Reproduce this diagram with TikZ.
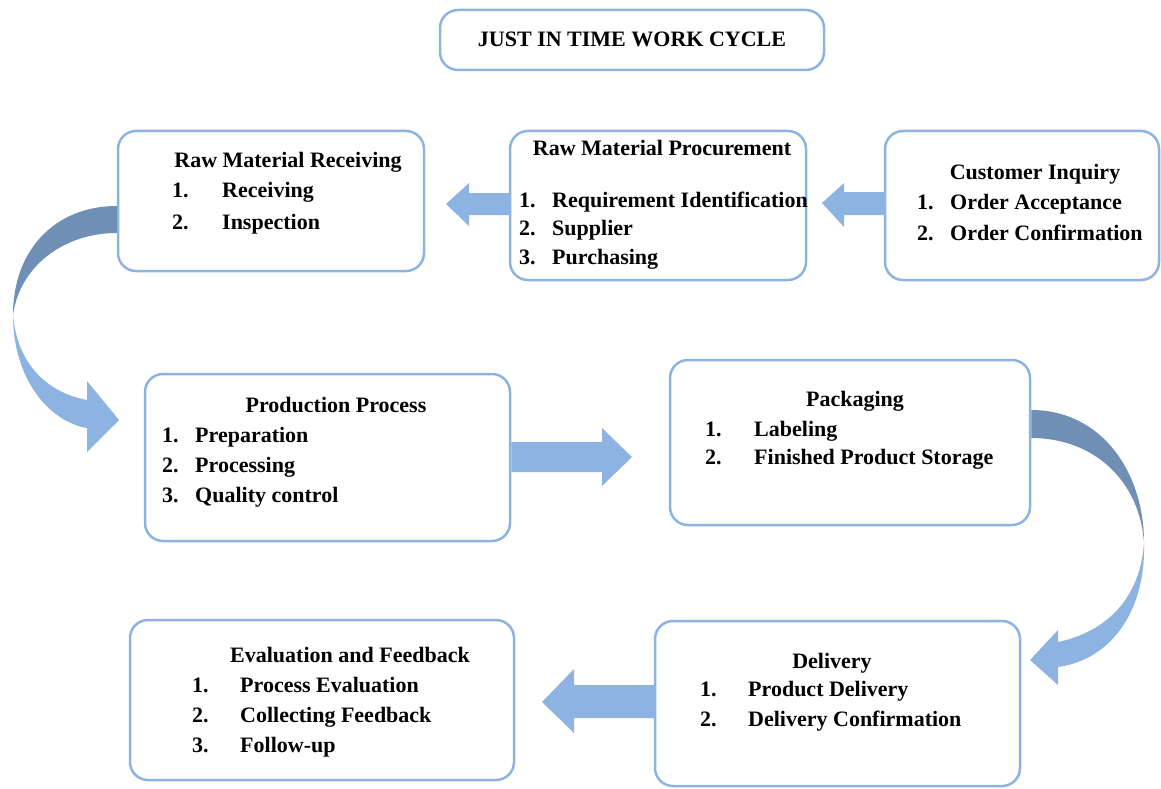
\documentclass[tikz,border=0pt]{standalone}
\usepackage{fontspec}
\setmainfont{Liberation Serif}
\usetikzlibrary{calc}
\definecolor{boxline}{HTML}{8DB3E2}
\definecolor{arrowlight}{HTML}{8DB3E2}
\definecolor{arrowdark}{HTML}{6F8FB5}
\tikzset{
  box/.style={draw=boxline, line width=2.5pt, rounded corners=18pt, fill=white},
  txt/.style={font=\fontsize{22}{30}\selectfont\bfseries, inner sep=0pt, text height=17pt, text depth=3pt},
  item/.style={txt, anchor=west},
  blockarrow/.style={fill=arrowlight, draw=none}
}

\begin{document}
\begin{tikzpicture}[x=1pt,y=-1pt]
    \useasboundingbox (0,0) rectangle (1161,789);% Page frame
    % Boxes
    \node[box, txt, minimum width=384pt, minimum height=60pt] (title) at (632,40) {JUST IN TIME WORK CYCLE};
    \node[box, minimum width=306pt, minimum height=140pt] (recv) at (271,201) {};
    \node[box, minimum width=296pt, minimum height=149pt] (proc) at (658,205.5) {};
    \node[box, minimum width=274pt, minimum height=149pt] (cust) at (1022,205.5) {};
    \node[box, minimum width=365pt, minimum height=167pt] (prod) at (327.5,457.5) {};
    \node[box, minimum width=360pt, minimum height=165pt] (pack) at (850,442.5) {};
    \node[box, minimum width=384pt, minimum height=160pt] (eval) at (322,700) {};
    \node[box, minimum width=365pt, minimum height=165pt] (deliv) at (837.5,703.5) {};
    % Straight block arrows
    \fill[blockarrow] (446,204) -- (469,183) -- (469,193) -- (proc.west |- 0,193)
        -- (proc.west |- 0,215) -- (469,215) -- (469,226) -- cycle;
    \fill[blockarrow] (822,203) -- (844,183) -- (844,192) -- (cust.west |- 0,192)
        -- (cust.west |- 0,215) -- (844,215) -- (844,227) -- cycle;
    \fill[blockarrow] (632,457) -- (602,428) -- (602,442) -- (prod.east |- 0,442)
        -- (prod.east |- 0,472) -- (602,472) -- (602,486) -- cycle;
    \fill[blockarrow] (542,702) -- (574,669) -- (574,685) -- (deliv.west |- 0,685)
        -- (deliv.west |- 0,718) -- (574,718) -- (574,733) -- cycle;
    % Curved arrow from receiving to production
    \fill[arrowdark] (recv.west |- 0,206) .. controls (55,206) and (13,250) .. (13,315)
        .. controls (20,265) and (65,233) .. (recv.west |- 0,233) -- cycle;
    \fill[arrowlight] (13,315) .. controls (13,380) and (50,422) .. (87,428)
        -- (87,452) -- (119,420) -- (87,381) -- (87,400)
        .. controls (45,392) and (17,362) .. (13,315) -- cycle;
    % Curved arrow from packaging to delivery
    \fill[arrowdark] (pack.east |- 0,410) .. controls (1100,410) and (1144,470) .. (1144,543)
        .. controls (1140,482) and (1095,438) .. (pack.east |- 0,438) -- cycle;
    \fill[arrowlight] (1144,543) .. controls (1146,612) and (1110,660) .. (1058,667)
        -- (1058,685) -- (1030,660) -- (1058,630) -- (1058,642)
        .. controls (1105,632) and (1140,600) .. (1144,543) -- cycle;
    % Texts
    \node[txt] (recvtitle) at (288,160) {Raw Material Receiving};
    \node[item] (recv1) at (172,190) {1.};
    \node[item] at (222,190) {Receiving};
    \node[item] (recv2) at (172,222) {2.};
    \node[item] at (222,222) {Inspection};
    \node[txt] (proctitle) at (662,148) {Raw Material Procurement};
    \node[item] at (519,200) {1.};
    \node[item] at (552,200) {Requirement Identification};
    \node[item] at (519,228) {2.};
    \node[item] at (552,228) {Supplier};
    \node[item] at (519,257) {3.};
    \node[item] at (552,257) {Purchasing};
    \node[txt] (custtitle) at (1035,172) {Customer Inquiry};
    \node[item] at (917,202) {1.};
    \node[item] at (950,202) {Order Acceptance};
    \node[item] at (917,233) {2.};
    \node[item] at (950,233) {Order Confirmation};
    \node[txt] (prodtitle) at (336,405) {Production Process};
    \node[item] at (162,435) {1.};
    \node[item] at (195,435) {Preparation};
    \node[item] at (162,465) {2.};
    \node[item] at (195,465) {Processing};
    \node[item] at (162,495) {3.};
    \node[item] at (195,495) {Quality control};
    \node[txt] (packtitle) at (855,399) {Packaging};
    \node[item] at (705,429) {1.};
    \node[item] at (754,429) {Labeling};
    \node[item] at (705,457) {2.};
    \node[item] at (754,457) {Finished Product Storage};
    \node[txt] (evaltitle) at (350,655) {Evaluation and Feedback};
    \node[item] at (192,685) {1.};
    \node[item] at (240,685) {Process Evaluation};
    \node[item] at (192,715) {2.};
    \node[item] at (240,715) {Collecting Feedback};
    \node[item] at (192,745) {3.};
    \node[item] at (240,745) {Follow-up};
    \node[txt] (delivtitle) at (832,661) {Delivery};
    \node[item] at (700,689) {1.};
    \node[item] at (748,689) {Product Delivery};
    \node[item] at (700,719) {2.};
    \node[item] at (748,719) {Delivery Confirmation};
\end{tikzpicture}
\end{document}
